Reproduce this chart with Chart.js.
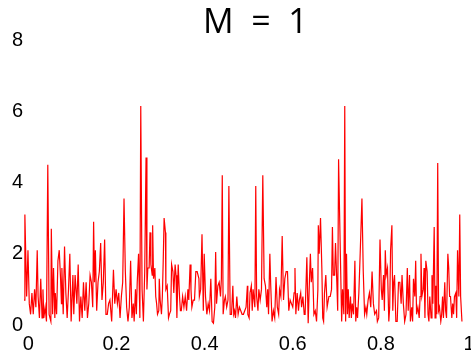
<!DOCTYPE html>
<html>
<head>
<meta charset="utf-8">
<script src="https://cdn.jsdelivr.net/npm/chart.js@4.4.0/dist/chart.umd.min.js"></script>
<style>
  html, body { margin: 0; padding: 0; background: #fff; }
  #wrap { width: 471px; height: 356px; }
</style>
</head>
<body>
<div id="wrap"><canvas id="spec"></canvas></div>
<script>
const titleText = '  M  =  1';
const xTicks = [0, 0.2, 0.4, 0.6, 0.8, 1];
const yTicks = [0, 2, 4, 6, 8];

// frequency (x)
const freq = [
  -0.010,-0.008,-0.004,-0.001,0.002,0.005,0.008,0.011,0.014,0.017,
  0.020,0.022,0.025,0.028,0.031,0.033,0.035,0.038,0.041,0.044,
  0.047,0.051,0.052,0.055,0.057,0.060,0.061,0.064,0.067,0.070,
  0.073,0.075,0.076,0.079,0.082,0.085,0.088,0.091,0.094,0.097,
  0.101,0.103,0.106,0.110,0.113,0.116,0.119,0.122,0.125,0.128,
  0.131,0.134,0.137,0.140,0.143,0.146,0.148,0.150,0.152,0.155,
  0.158,0.161,0.164,0.167,0.170,0.173,0.176,0.179,0.182,
  // 0.18 - 0.39
  0.185,0.189,0.193,0.196,0.199,0.202,0.205,0.208,0.211,0.214,
  0.217,0.220,0.223,0.226,0.229,0.232,0.235,0.238,0.240,0.243,
  0.245,0.247,0.250,0.253,0.255,0.258,0.261,0.264,0.267,0.269,
  0.271,0.274,0.276,0.278,0.281,0.282,0.284,0.287,0.289,0.291,
  0.293,0.296,0.297,0.299,0.302,0.304,0.306,0.308,0.311,0.312,
  0.315,0.318,0.320,0.323,0.325,0.328,0.330,0.333,0.335,0.337,
  0.340,0.343,0.345,0.347,0.350,0.353,0.356,0.359,0.362,0.364,
  0.367,0.369,0.371,0.374,0.377,0.380,0.383,0.387,
  // 0.39 - 0.58
  0.388,0.391,0.394,0.397,0.399,0.402,0.405,0.408,0.411,0.414,
  0.417,0.420,0.423,0.425,0.427,0.430,0.433,0.436,0.438,0.440,
  0.442,0.445,0.447,0.450,0.453,0.455,0.458,0.461,0.464,0.466,
  0.468,0.470,0.473,0.476,0.479,0.482,0.485,0.488,0.491,0.494,
  0.497,0.498,0.501,0.503,0.506,0.508,0.510,0.514,0.516,0.518,
  0.521,0.523,0.526,0.529,0.532,0.535,0.538,0.541,0.543,0.545,
  0.548,0.550,0.553,0.556,0.559,0.562,0.565,0.568,0.570,0.573,
  0.576,0.579,0.582,
  // 0.58 - 0.79
  0.585,0.588,0.591,0.594,0.597,0.600,0.603,0.605,0.607,0.610,
  0.613,0.615,0.618,0.620,0.623,0.626,0.628,0.632,0.635,0.638,
  0.640,0.642,0.645,0.648,0.651,0.654,0.657,0.658,0.660,0.663,
  0.666,0.668,0.670,0.672,0.675,0.678,0.682,0.685,0.688,0.690,
  0.692,0.695,0.697,0.700,0.702,0.704,0.708,0.711,0.713,0.716,
  0.718,0.720,0.722,0.724,0.726,0.728,0.731,0.733,0.735,0.738,
  0.741,0.743,0.745,0.747,0.750,0.753,0.757,0.760,0.763,0.766,
  0.768,0.771,0.774,0.777,0.780,0.783,0.786,
  // 0.79 - end
  0.790,0.792,0.795,0.798,0.801,0.803,0.806,0.808,0.810,0.812,
  0.815,0.818,0.820,0.822,0.825,0.827,0.829,0.831,0.834,0.837,
  0.840,0.843,0.846,0.848,0.851,0.854,0.857,0.860,0.862,0.865,
  0.867,0.870,0.872,0.874,0.877,0.879,0.881,0.884,0.887,0.889,
  0.891,0.893,0.896,0.898,0.900,0.902,0.905,0.907,0.909,0.911,
  0.914,0.916,0.918,0.921,0.923,0.925,0.927,0.929,0.931,0.933,
  0.936,0.938,0.940,0.942,0.945,0.947,0.949,0.952,0.954,0.956,
  0.958,0.961,0.963,0.965,0.967,0.970,0.972,0.974,0.977,0.979,
  0.981,0.984
];

// amplitude (y), same order as freq
const power = [
  0.7,3.1,0.8,2.1,0.6,0.3,0.9,0.3,1.0,0.5,
  2.1,0.8,0.2,1.3,0.2,1.0,0.2,0.5,0.1,4.5,
  0.3,0.1,2.7,0.3,1.6,0.2,0.9,0.3,1.8,2.1,
  1.3,0.6,1.6,0.3,2.2,0.9,0.2,1.0,2.0,0.1,
  1.4,0.3,1.4,0.6,1.7,0.1,0.8,0.2,1.2,0.4,
  1.2,0.2,0.6,1.4,1.2,0.5,2.9,1.2,2.1,0.4,
  1.2,1.5,2.3,0.7,1.2,2.4,0.3,0.3,0.6,
  // 0.18 - 0.39
  0.7,0.1,1.55,0.6,1.0,0.6,0.9,0.2,0.8,1.2,
  3.55,1.5,0.5,0.1,0.5,1.8,0.2,0.6,0.1,1.0,
  0.3,1.2,2.0,0.2,6.15,1.0,0.1,1.5,4.7,1.0,
  1.6,1.6,2.6,1.7,1.4,2.8,1.3,1.6,0.8,0.6,
  0.3,0.4,1.3,0.7,0.3,0.8,1.8,3.0,2.6,1.0,
  1.1,0.2,0.3,0.4,1.7,1.5,0.9,1.7,1.4,0.2,
  1.7,0.8,0.4,0.4,0.8,0.5,0.8,0.4,1.0,0.7,
  1.7,1.0,0.5,0.7,0.7,1.5,1.5,1.3,
  // 0.39 - 0.58
  0.8,1.0,2.55,0.4,2.0,0.8,0.3,0.6,0.4,1.3,
  0.1,0.05,0.5,2.05,0.6,1.1,1.2,0.8,1.3,4.2,
  0.3,0.7,0.8,0.5,0.7,3.9,0.3,0.3,1.1,0.3,
  0.4,0.2,0.8,0.3,0.5,0.4,0.3,0.3,0.4,0.5,
  1.1,0.3,0.2,0.9,1.1,0.4,1.0,0.5,3.9,0.8,
  0.4,1.0,0.7,1.0,4.2,1.3,1.1,0.5,1.0,0.3,
  2.0,1.1,0.1,0.4,0.2,1.35,0.5,0.3,1.0,0.8,
  2.5,0.7,1.3,
  // 0.58 - 0.79
  1.5,1.5,0.4,0.7,0.6,0.5,0.9,1.6,0.3,0.9,
  0.4,0.7,0.9,0.5,0.8,0.3,0.3,1.9,0.05,1.3,
  2.0,1.2,1.6,0.3,0.4,0.1,1.0,2.8,2.0,3.0,
  1.6,0.2,0.1,0.9,1.4,0.5,0.8,0.8,1.0,2.75,
  1.4,1.4,2.3,1.2,0.4,4.65,2.0,0.1,1.0,0.3,
  6.15,0.1,2.0,0.3,1.0,0.2,0.8,0.2,0.6,0.3,
  1.8,0.1,0.5,0.2,0.9,2.0,3.55,1.5,0.3,0.5,
  0.3,0.7,0.9,0.5,1.5,0.6,0.3,
  // 0.79 - end
  0.4,0.1,0.2,2.4,1.0,0.7,1.4,0.4,2.1,1.4,
  1.6,0.1,0.5,2.1,2.8,0.4,1.2,1.4,0.1,0.1,
  1.2,1.2,0.6,1.4,0.6,0.1,0.3,1.6,0.4,1.4,
  0.1,0.5,0.1,1.3,0.8,1.8,0.3,0.5,0.2,0.8,
  2.0,0.8,1.0,1.6,0.2,1.8,1.5,0.3,0.1,0.8,
  0.2,1.4,0.6,2.75,0.2,1.1,0.3,4.55,0.4,0.5,
  0.1,0.3,0.8,0.2,1.2,0.4,0.2,2.0,1.6,0.8,
  0.8,0.2,0.6,0.3,0.8,0.9,0.2,2.1,0.8,3.1,
  0.8,0.1
];

const tickFont = { family: "'Liberation Sans', Arial, sans-serif", size: 20 };

new Chart(document.getElementById('spec'), {
  type: 'line',
  data: {
    datasets: [{
      data: freq.map((f, i) => ({ x: f, y: power[i] })),
      borderColor: '#ff0000',
      borderWidth: 1.2,
      pointRadius: 0,
      tension: 0,
      fill: false
    }]
  },
  options: {
    responsive: true,
    maintainAspectRatio: false,
    animation: false,
    layout: { padding: { top: 0, right: 2, bottom: 0, left: 0 } },
    plugins: {
      legend: { display: false },
      tooltip: { enabled: false },
      title: {
        display: true,
        text: titleText,
        fullSize: false,
        color: '#000',
        font: { family: "'Open Sans', sans-serif", size: 34, weight: 'normal', lineHeight: 1 },
        padding: { top: 6, bottom: 0 }
      }
    },
    scales: {
      x: {
        type: 'linear',
        min: -0.01,
        max: 1,
        grid: { display: false, drawTicks: false },
        border: { display: false },
        afterBuildTicks: s => { s.ticks = xTicks.map(v => ({ value: v })); },
        afterFit: s => { s.height = 31; s.paddingLeft = 0; s.paddingRight = 0; },
        ticks: {
          color: '#000',
          font: tickFont,
          padding: 7,
          maxRotation: 0,
          callback: v => String(+v.toFixed(1))
        }
      },
      y: {
        min: 0,
        max: 8,
        grid: { display: false, drawTicks: false },
        border: { display: false },
        afterBuildTicks: s => { s.ticks = yTicks.map(v => ({ value: v })); },
        afterFit: s => { s.width = 24; s.paddingTop = 0; s.paddingBottom = 0; },
        ticks: { color: '#000', font: tickFont, padding: 1 }
      }
    }
  }
});
</script>
</body>
</html>
